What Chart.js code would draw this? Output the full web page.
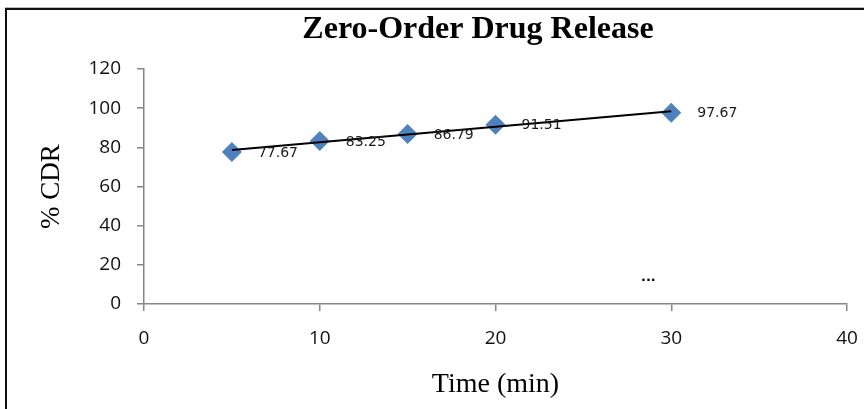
<!DOCTYPE html>
<html>
<head>
<meta charset="utf-8">
<script src="https://cdn.jsdelivr.net/npm/chart.js@4.4.0/dist/chart.umd.min.js"></script>
<style>
  html, body { margin: 0; padding: 0; background: #fff; }
  #wrap { width: 864px; height: 409px; position: relative; }
</style>
</head>
<body>
<div id="wrap"><canvas id="mycanvas"></canvas></div>
<script>
// data
var timeMin = [5, 10, 15, 20, 30];
var cdr = [77.67, 83.25, 86.79, 91.51, 97.67];
var xTicks = [0, 10, 20, 30, 40];
var yTicks = [0, 20, 40, 60, 80, 100, 120];
var noteAt = { x: 28.7, y: 13.5 };   // stray "..." in the picture

// linear trendline (least squares) like Excel does
var n = timeMin.length, sx = 0, sy = 0, sxx = 0, sxy = 0;
for (var i = 0; i < n; i++) {
    sx += timeMin[i]; sy += cdr[i];
    sxx += timeMin[i] * timeMin[i]; sxy += timeMin[i] * cdr[i];
}
var slope = (n * sxy - sx * sy) / (n * sxx - sx * sx);
var icpt = (sy - slope * sx) / n;
var xFirst = Math.min.apply(null, timeMin), xLast = Math.max.apply(null, timeMin);
var trend = [
    { x: xFirst, y: icpt + slope * xFirst },
    { x: xLast, y: icpt + slope * xLast }
];

var points = timeMin.map(function (t, i) { return { x: t, y: cdr[i] }; });

var decor = {
    id: "decor",
    beforeDraw: function (chart) {
        var c = chart.ctx;
        c.save();
        c.fillStyle = "#fff";
        c.fillRect(0, 0, chart.width, chart.height);
        c.restore();
    },
    afterDraw: function (chart) {
        var c = chart.ctx;
        c.save();
        // frame
        c.fillStyle = "#bbb";
        c.fillRect(5, 7, chart.width - 5, 1);
        c.fillStyle = "#111";
        c.fillRect(5, 8, chart.width - 5, 2);
        c.fillRect(5, 8, 2, chart.height - 8);
        // title
        c.font = "bold 32px 'Liberation Serif'";
        c.fillStyle = "#000";
        c.textAlign = "center";
        c.textBaseline = "alphabetic";
        c.fillText("Zero-Order Drug Release", 478, 38);
        // point labels
        var meta = chart.getDatasetMeta(1);
        c.font = "14px 'DejaVu Sans'";
        c.fillStyle = "#1a1a1a";
        c.textAlign = "left";
        c.textBaseline = "middle";
        meta.data.forEach(function (pt, i) {
            c.fillText(cdr[i].toFixed(2), pt.x + 26, pt.y + 1);
        });
        // stray dots
        var sxp = chart.scales.x.getPixelForValue(noteAt.x);
        var syp = chart.scales.y.getPixelForValue(noteAt.y);
        c.font = "bold 13px 'DejaVu Sans'";
        c.textAlign = "center";
        c.fillStyle = "#000";
        c.fillText("...", sxp, syp);
        c.restore();
    }
};

var axisColor = "#868686";
var tickFont = { family: "'Open Sans'", size: 19 };

var chart = new Chart(document.getElementById("mycanvas"), {
    type: "scatter",
    data: {
        datasets: [
            {
                label: "Trend",
                type: "line",
                data: trend,
                borderColor: "#000",
                borderWidth: 2,
                pointRadius: 0,
                fill: false,
                order: 0
            },
            {
                label: "% CDR",
                data: points,
                pointStyle: "rectRot",
                pointRadius: 10,
                pointHoverRadius: 10,
                backgroundColor: "#4F81BD",
                borderColor: "#4F81BD",
                borderWidth: 0,
                order: 1
            }
        ]
    },
    options: {
        responsive: true,
        maintainAspectRatio: false,
        animation: false,
        events: [],
        layout: { padding: { left: 0, right: 17, top: 69, bottom: 0 } },
        plugins: {
            legend: { display: false },
            tooltip: { enabled: false }
        },
        scales: {
            x: {
                type: "linear",
                min: 0,
                max: 40,
                afterBuildTicks: function (s) { s.ticks = xTicks.map(function (v) { return { value: v }; }); },
                afterFit: function (s) { s.height = 105; s.paddingRight = 17; },
                grid: { drawOnChartArea: false, drawTicks: true, tickLength: 7, color: axisColor, lineWidth: 1.5 },
                border: { color: axisColor, width: 1.5 },
                ticks: { color: "#111", font: tickFont, padding: 16 },
                title: {
                    display: true,
                    text: "Time (min)",
                    color: "#000",
                    font: { family: "'Liberation Serif'", size: 28 },
                    padding: { top: 0, bottom: 8 }
                }
            },
            y: {
                min: 0,
                max: 120,
                afterBuildTicks: function (s) { s.ticks = yTicks.map(function (v) { return { value: v }; }); },
                afterFit: function (s) { s.width = 144; },
                grid: { drawOnChartArea: false, drawTicks: true, tickLength: 7, color: axisColor, lineWidth: 1.5 },
                border: { color: axisColor, width: 1.5 },
                ticks: { color: "#111", font: tickFont, padding: 16 },
                title: {
                    display: true,
                    text: "% CDR",
                    color: "#000",
                    font: { family: "'Liberation Serif'", size: 27 },
                    padding: { top: 36, bottom: 0 }
                }
            }
        }
    },
    plugins: [decor]
});
</script>
</body>
</html>
